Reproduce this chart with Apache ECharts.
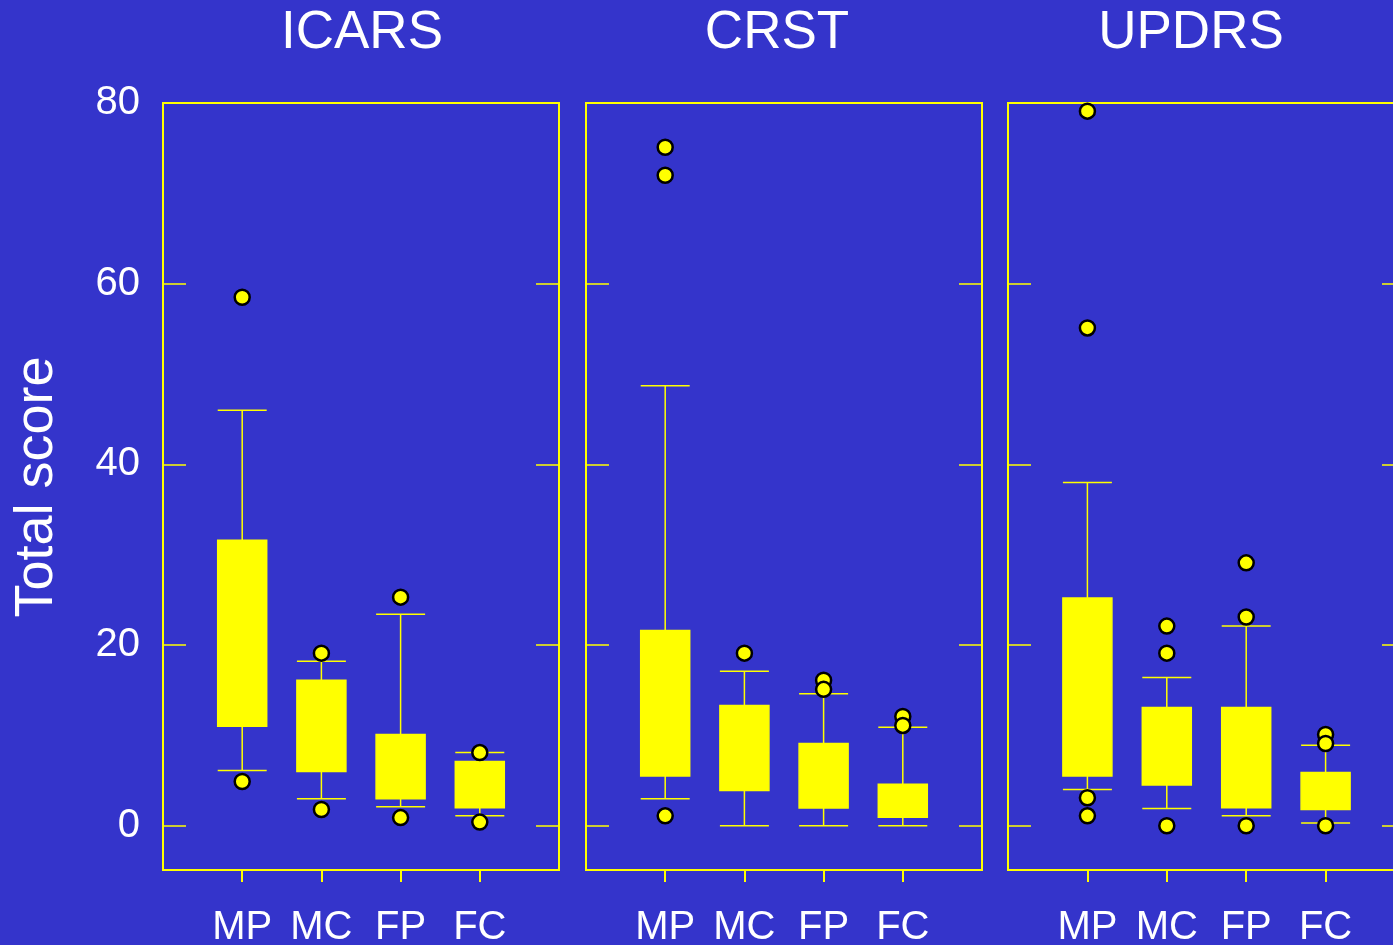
<!DOCTYPE html>
<html>
<head>
<meta charset="utf-8">
<script src="https://cdn.jsdelivr.net/npm/echarts@6/dist/echarts.min.js"></script>
<style>
html,body{margin:0;padding:0;background:#3434CB;}
#c{width:1393px;height:945px;}
</style>
</head>
<body>
<div id="c"></div>
<script>
// ---- data ----
const categories = ['', 'MP', 'MC', 'FP', 'FC', ''];
const panelTitles = ['ICARS', 'CRST', 'UPDRS'];
const yTickValues = [0, 20, 40, 60, 80];
const yLabel = 'Total score';

// [min, Q1, median, Q3, max] for MP, MC, FP, FC
const icarsBox = [
  [6.1, 11.0, 17.5, 31.6, 46.0],
  [3.0, 6.0, 10.0, 16.1, 18.2],
  [2.1, 3.0, 5.1, 10.1, 23.4],
  [1.1, 2.0, 4.5, 7.1, 8.1]
];
const crstBox = [
  [3.0, 5.5, 13.6, 21.6, 48.7],
  [0.0, 3.9, 8.1, 13.3, 17.1],
  [0.0, 1.95, 4.5, 9.1, 14.6],
  [0.0, 0.95, 2.0, 4.6, 10.9]
];
const updrsBox = [
  [4.0, 5.5, 15.6, 25.2, 38.0],
  [1.9, 4.5, 8.6, 13.1, 16.4],
  [1.1, 2.0, 6.0, 13.1, 22.1],
  [0.3, 1.8, 2.5, 5.9, 8.9]
];
// outliers: [category index (1=MP..4=FC), value]
const icarsOut = [[1, 58.5], [1, 4.9], [2, 19.1], [2, 1.8], [3, 25.3], [3, 0.9], [4, 8.1], [4, 0.4]];
const crstOut = [[1, 75.1], [1, 72.0], [1, 1.1], [2, 19.1], [3, 16.1], [3, 15.1], [4, 12.1], [4, 11.1]];
const updrsOut = [[1, 79.1], [1, 55.1], [1, 3.1], [1, 1.1], [2, 22.1], [2, 19.1], [2, 0], [3, 29.1], [3, 23.1], [3, 0], [4, 10.1], [4, 9.1], [4, 0]];

const boxes = [icarsBox, crstBox, updrsBox];
const outs = [icarsOut, crstOut, updrsOut];

// ---- styles ----
const YEL = '#FFFF00';
const FONT = '"Liberation Sans", Arial, sans-serif';
const gridLefts = [163, 586, 1008];
const gridWidth = [396, 396, 397];
const titleX = [362, 777, 1191];
const EMPTY = ['-', '-', '-', '-', '-'];

const chart = echarts.init(document.getElementById('c'));
const grids = [], xAxes = [], yAxes = [], series = [], graphics = [];

for (let p = 0; p < 3; p++) {
  grids.push({
    left: gridLefts[p], width: gridWidth[p], top: 103, bottom: 75,
    outerBoundsMode: 'none', containLabel: false,
    show: true, borderColor: YEL, borderWidth: 2, backgroundColor: 'transparent'
  });
  xAxes.push({
    type: 'category', gridIndex: p, data: categories, boundaryGap: false, position: 'bottom',
    axisLine: { show: false, onZero: false },
    axisTick: { show: true, inside: false, length: 12, lineStyle: { color: YEL, width: 2 },
      interval: function (idx) { return idx >= 1 && idx <= 4; } },
    axisLabel: { interval: 0, color: '#fff', fontSize: 40, fontFamily: FONT, margin: 58, verticalAlign: 'middle' },
    splitLine: { show: false }
  });
  yAxes.push({
    type: 'value', gridIndex: p, position: 'left', min: -4.9, max: 80,
    axisLine: { show: false, onZero: false },
    axisTick: { show: true, inside: true, length: 23, lineStyle: { color: YEL, width: 1.5 }, customValues: [0, 20, 40, 60] },
    axisLabel: { show: p === 0, color: '#fff', fontSize: 40, fontFamily: FONT, margin: 23, customValues: yTickValues },
    splitLine: { show: false }
  });
  yAxes.push({
    type: 'value', gridIndex: p, position: 'right', min: -4.9, max: 80,
    axisLine: { show: false, onZero: false },
    axisTick: { show: true, inside: true, length: 23, lineStyle: { color: YEL, width: 1.5 }, customValues: [0, 20, 40, 60] },
    axisLabel: { show: false },
    splitLine: { show: false }
  });
  series.push({
    type: 'boxplot', xAxisIndex: p, yAxisIndex: p * 2,
    boxWidth: [49, 49],
    itemStyle: { color: YEL, borderColor: YEL, borderWidth: 1.5 },
    data: [EMPTY].concat(boxes[p]).concat([EMPTY]),
    silent: true, z: 2
  });
  series.push({
    type: 'scatter', xAxisIndex: p, yAxisIndex: p * 2,
    symbol: 'circle', symbolSize: 15,
    itemStyle: { color: YEL, borderColor: '#000', borderWidth: 2.5, opacity: 1 },
    data: outs[p], silent: true, z: 3
  });
  graphics.push({
    type: 'text', x: titleX[p], y: 33,
    style: { text: panelTitles[p], fill: '#fff', font: '53px ' + FONT, textAlign: 'center', textVerticalAlign: 'middle' }
  });
}
graphics.push({
  type: 'text', x: 37, y: 487, rotation: Math.PI / 2,
  style: { text: yLabel, fill: '#fff', font: '54px ' + FONT, textAlign: 'center', textVerticalAlign: 'middle' }
});

chart.setOption({
  backgroundColor: '#3434CB',
  animation: false,
  grid: grids,
  xAxis: xAxes,
  yAxis: yAxes,
  series: series,
  graphic: graphics
});
</script>
</body>
</html>
